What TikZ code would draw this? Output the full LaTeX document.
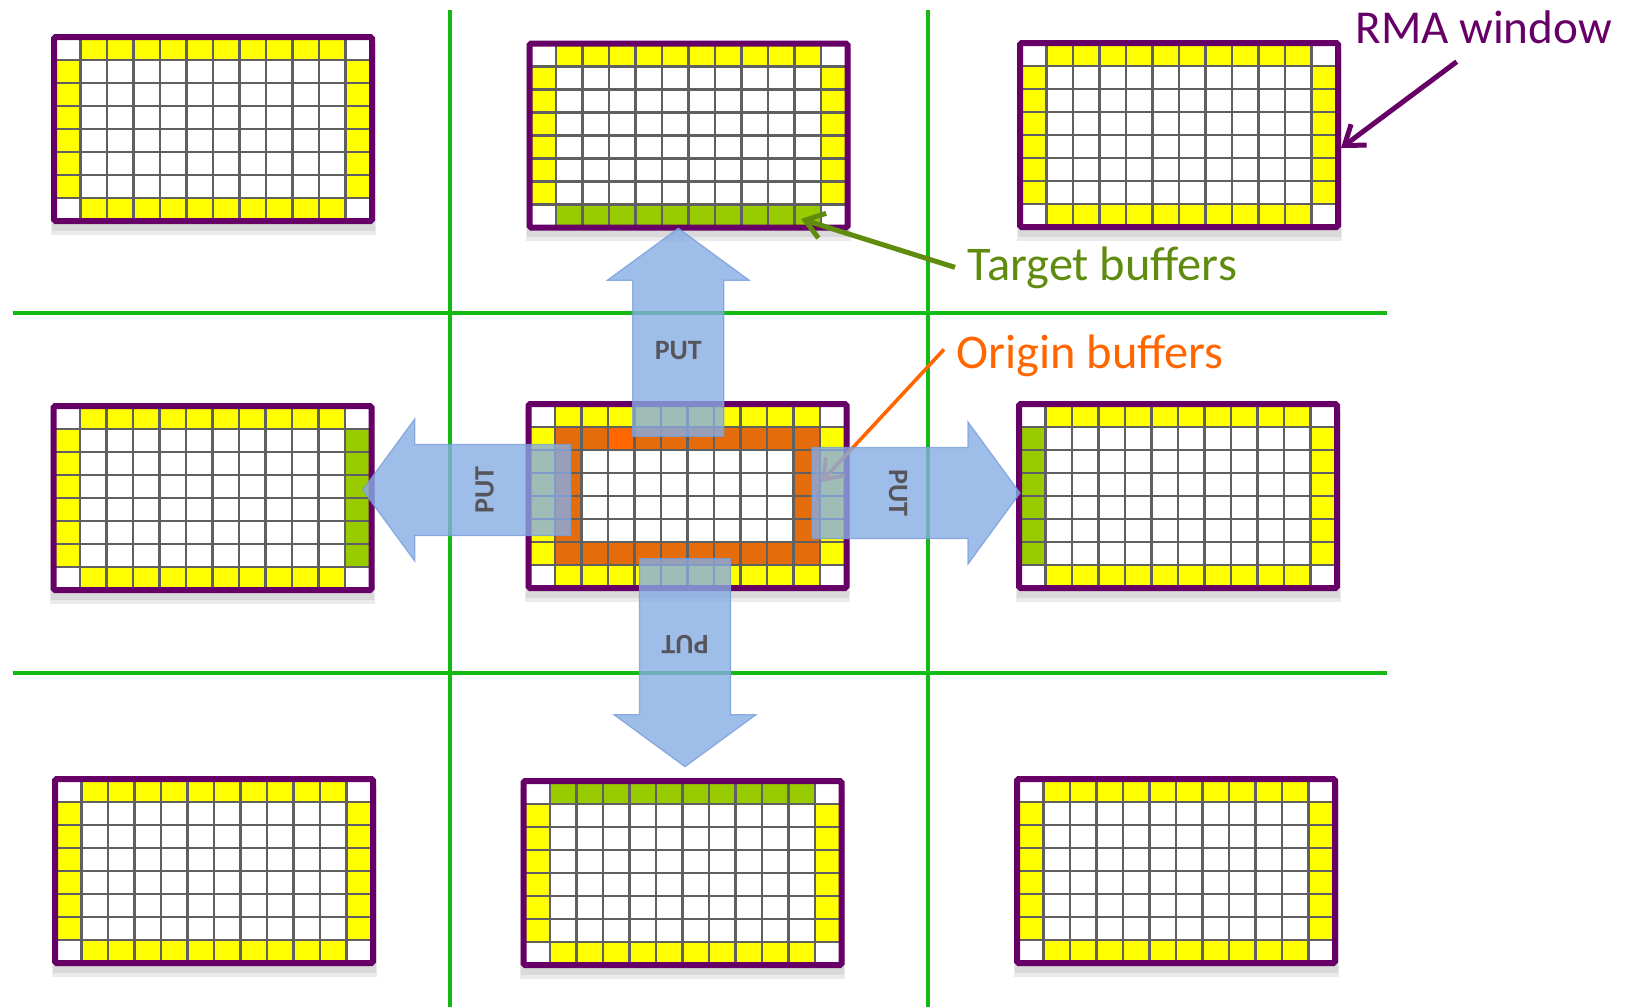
\documentclass[tikz,border=0pt]{standalone}
\usepackage{fontspec}
\setmainfont{Carlito}
\usetikzlibrary{arrows.meta, calc, positioning}

\definecolor{winpurple}{RGB}{102,0,102}
\definecolor{haloyellow}{RGB}{255,255,0}
\definecolor{tgtgreen}{RGB}{153,204,0}
\definecolor{orgorange}{RGB}{228,108,10}
\definecolor{orgbright}{RGB}{255,102,0}
\definecolor{gridgray}{RGB}{96,96,96}
\definecolor{sepgreen}{RGB}{20,185,20}
\definecolor{putblue}{RGB}{135,172,228}
\definecolor{putedge}{RGB}{118,158,218}
\definecolor{putgray}{RGB}{85,85,90}
\definecolor{tgtlabel}{RGB}{95,139,15}

\tikzset{
  halo/.style={fill=haloyellow},
  target/.style={fill=tgtgreen},
  origin/.style={fill=orgorange},
  cellgrid/.style={draw=gridgray, line width=1.1pt},
  winframe/.style={draw=winpurple, line width=3pt, rounded corners=0.8pt},
  winshadow/.style={fill=black, opacity=0.08},
  sepline/.style={draw=sepgreen, line width=2pt},
  putshape/.style={fill=putblue, draw=putedge, line width=0.6pt, opacity=0.8},
  puttext/.style={text=putgray, font=\fontsize{14pt}{16pt}\selectfont\bfseries,
    transform shape, inner sep=0pt},
  calloutlbl/.style={font=\fontsize{24.2pt}{28pt}\selectfont, inner sep=6pt},
  callout/.style={line width=2.5pt, -{Straight Barb[length=9pt,width=13pt]}},
  pics/putarrow/.style={code={
    \filldraw[putshape] (0,0) -- (71,52) -- (45.5,52) -- (45.5,208)
      -- (-45.5,208) -- (-45.5,52) -- (-71,52) -- cycle;
    \node[puttext] (-lbl) at (0,122) {PUT};
  }}
}

% one RMA window: name, top-left x, top-left y, extra cells
\newcommand{\rmawin}[4]{%
  \begin{scope}[shift={(#2,#3)}, x=13.25pt, y=-11.5pt]
    \fill[winshadow] (-0.12,0.3) rectangle (12.14,8.6);
    \fill[winshadow] (-0.08,0.3) rectangle (12.1,8.42);
    \fill[white] (0,0) rectangle (12,8);
    \fill[halo] (1,0) rectangle (11,1) (1,7) rectangle (11,8)
      (0,1) rectangle (1,7) (11,1) rectangle (12,7);
    #4
    \foreach \i in {1,...,11} \draw[cellgrid] (\i,0) -- (\i,8);
    \foreach \j in {1,...,7} \draw[cellgrid] (0,\j) -- (12,\j);
    \draw[winframe] (0,0) rectangle (12,8);
    \coordinate (#1) at (6,4);
  \end{scope}}

\begin{document}
\begin{tikzpicture}[x=0.5pt, y=-0.5pt]
\useasboundingbox (0,0) rectangle (1633,1007);

% separators
\draw[sepline] (12.5,313) -- (1387,313);
\draw[sepline] (12.5,673) -- (1387,673);
\draw[sepline] (450,10) -- (450,1007);
\draw[sepline] (928,10) -- (928,1007);

% windows, top row
\rmawin{TL}{54}{37}{}
\rmawin{TM}{529.5}{43.5}{\fill[target] (1,7) rectangle (11,8);}
\rmawin{TR}{1020}{43}{}

% windows, middle row
\rmawin{ML}{53.5}{406}{\fill[target] (11,1) rectangle (12,7);}
\rmawin{MC}{528.5}{404}{%
  \fill[origin] (1,1) rectangle (11,2) (1,6) rectangle (11,7)
    (1,2) rectangle (2,6) (10,2) rectangle (11,6);
  \fill[orgbright] (3,1) rectangle (4,2);}
\rmawin{MR}{1019}{404}{\fill[target] (0,1) rectangle (1,7);}

% windows, bottom row
\rmawin{BL}{55}{779}{}
\rmawin{BM}{523.5}{781}{\fill[target] (1,0) rectangle (11,1);}
\rmawin{BR}{1017}{779}{}

% labels
\node[calloutlbl, text=winpurple, anchor=base west, font=\fontsize{23.6pt}{28pt}\selectfont] (rmalbl) at (1343,43) {RMA window};
\node[calloutlbl, text=tgtlabel, anchor=base west] (tgtlbl) at (955,280) {Target buffers};
\node[calloutlbl, text=orgbright, anchor=base west] (orglbl) at (944,368) {Origin buffers};

% callout arrows
\coordinate (rmatip) at (1341,148);
\coordinate (tgttip) at (801,219);
\coordinate (orgtip) at (821,482);
\draw[callout, winpurple] ([shift={(-27,6)}]rmalbl.south) -- (rmatip);
\draw[callout, tgtlabel] (tgtlbl.west) -- (tgttip);
\draw[callout, orgbright, line width=1.8pt] ([yshift=3pt]orglbl.west) -- (orgtip);

% PUT arrows
\pic (putup) at (678.3,228.3) {putarrow};
\pic (putdown) [rotate=180] at (685,766.7) {putarrow};
\pic (putleft) [rotate=90] at (362.7,490) {putarrow};
\pic (putright) [rotate=-90] at (1020,493) {putarrow};

\end{tikzpicture}
\end{document}
